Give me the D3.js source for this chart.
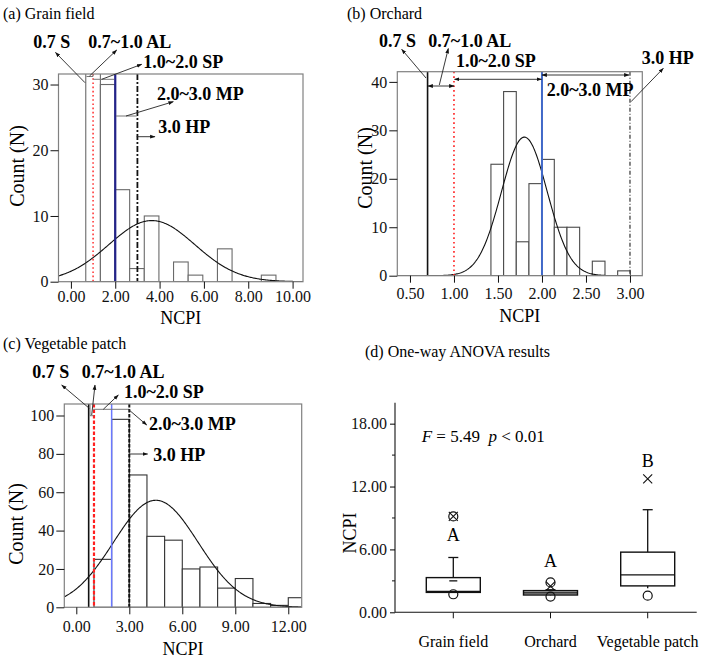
<!DOCTYPE html>
<html><head><meta charset="utf-8">
<script src="https://cdn.jsdelivr.net/npm/d3@7"></script>
<style>
body{margin:0;background:#fff}
svg{font-family:"Liberation Serif","Times New Roman",serif}
</style></head><body>
<script>
// ---------------- DATA ----------------
const thresholds = [0.7, 1.0, 2.0, 3.0];
const thresholdLabels = ["0.7 S", "0.7~1.0 AL", "1.0~2.0 SP", "2.0~3.0 MP", "3.0 HP"];

// (a) Grain field histogram
const grainBinStart = 0.67, grainBinWidth = 0.66;
const grainCounts = [40, 30, 14, 2, 10, 0, 3, 1, 0, 5, 0, 0, 1];
const grainNormal = [3.65, 1.94, 9.3]; // mean, sd, peak count
const grainXTicks = [0, 2, 4, 6, 8, 10];
const grainYTicks = [0, 10, 20, 30];

// (b) Orchard histogram
const orchardBinStart = 1.42, orchardBinWidth = 0.144;
const orchardCounts = [23, 38, 7, 19, 24, 10, 10, 0, 3, 0, 1];
const orchardNormal = [1.80, 0.26, 28.6];
const orchardXTicks = [0.5, 1.0, 1.5, 2.0, 2.5, 3.0];
const orchardYTicks = [0, 10, 20, 30, 40];

// (c) Vegetable patch histogram
const vegBinStart = 1.0, vegBinWidth = 1.0;
const vegCounts = [25, 98, 69, 37, 35, 20, 21, 10, 15, 2, 1, 5];
const vegNormal = [4.5, 2.4, 55.8];
const vegXTicks = [0, 3, 6, 9, 12];
const vegYTicks = [0, 20, 40, 60, 80, 100];

// (d) One-way ANOVA box plots
const boxCategories = ["Grain field", "Orchard", "Vegetable patch"];
const boxQ1 = [1.90, 1.65, 2.52];
const boxMedian = [2.00, 1.85, 3.57];
const boxQ3 = [3.31, 2.07, 5.74];
const boxWhiskerLow = [1.90, 1.62, 2.30];
const boxWhiskerHigh = [5.23, 2.15, 9.79];
const boxMean = [3.00, null, null];
const boxMinMarker = [1.72, 1.50, 1.59];
const boxMaxMarker = [9.15, 2.85, null];
const boxCrossMarker = [9.15, 2.50, 12.73];
const boxLetters = ["A", "A", "B"];
const boxLetterAt = [6.8, 4.35, 13.9];
const boxYTicks = [0, 6, 12, 18];
const boxYMinor = [3, 9, 15];

// ---------------- DRAW ----------------
const svg = d3.select("body").append("svg").attr("width", 708).attr("height", 658);
const defs = svg.append("defs");
defs.append("marker").attr("id", "ah").attr("viewBox", "0 0 10 10").attr("refX", 9).attr("refY", 5)
  .attr("markerWidth", 6).attr("markerHeight", 6).attr("orient", "auto-start-reverse")
  .append("path").attr("d", "M0,1.5 L10,5 L0,8.5 Z").attr("fill", "#111");

function arrow(g, p1, p2, both) {
  const l = g.append("line").attr("x1", p1[0]).attr("y1", p1[1]).attr("x2", p2[0]).attr("y2", p2[1])
    .attr("stroke", "#222").attr("stroke-width", 0.9).attr("marker-end", "url(#ah)");
  if (both) l.attr("marker-start", "url(#ah)");
}
function pline(g, pts, color) {
  g.append("path").attr("d", d3.line()(pts)).attr("fill", "none").attr("stroke", color || "#777").attr("stroke-width", 1);
}

function histPanel(cfg) {
  const g = svg.append("g");
  const x = d3.scaleLinear().domain(cfg.xDomain).range([cfg.left, cfg.right]);
  const y = d3.scaleLinear().domain(cfg.yDomain).range([cfg.bottom, cfg.top]);
  const cid = "clip" + cfg.id;
  defs.append("clipPath").attr("id", cid).append("rect")
    .attr("x", cfg.left).attr("y", cfg.top).attr("width", cfg.right - cfg.left).attr("height", cfg.bottom - cfg.top);
  const plot = g.append("g").attr("clip-path", `url(#${cid})`);
  const bins = cfg.counts.map((c, i) => ({x0: cfg.binStart + i * cfg.binWidth, x1: cfg.binStart + (i + 1) * cfg.binWidth, c}))
    .filter(d => d.c > 0);
  plot.selectAll("rect.bar").data(bins).join("rect").attr("class", "bar")
    .attr("x", d => x(d.x0)).attr("width", d => x(d.x1) - x(d.x0))
    .attr("y", d => y(d.c)).attr("height", d => y(0) - y(d.c))
    .attr("fill", "#fff").attr("stroke", cfg.barStroke).attr("stroke-width", 1.1);
  // normal curve
  const [mu, sd, pk] = cfg.normal;
  const step = (cfg.xDomain[1] - cfg.xDomain[0]) / 300;
  const xs = d3.range(cfg.xDomain[0], cfg.xDomain[1] + step / 2, step);
  plot.append("path").datum(xs)
    .attr("d", d3.line().x(v => x(v)).y(v => y(pk * Math.exp(-((v - mu) ** 2) / (2 * sd * sd)))))
    .attr("fill", "none").attr("stroke", "#111").attr("stroke-width", 1.1);
  // threshold lines
  cfg.lines.forEach(L => {
    plot.append("line").attr("x1", x(L.v)).attr("x2", x(L.v)).attr("y1", cfg.top).attr("y2", cfg.bottom)
      .attr("stroke", L.color).attr("stroke-width", L.w).attr("stroke-dasharray", L.dash || null);
  });
  // frame
  g.append("rect").attr("x", cfg.left).attr("y", cfg.top).attr("width", cfg.right - cfg.left).attr("height", cfg.bottom - cfg.top)
    .attr("fill", "none").attr("stroke", "#808080").attr("stroke-width", 1.2);
  // axes
  const ax = g.append("g").attr("transform", `translate(0,${cfg.bottom})`)
    .call(d3.axisBottom(x).tickValues(cfg.xTicks).tickFormat(d3.format(".2f")).tickSize(7).tickPadding(cfg.xPad));
  const ay = g.append("g").attr("transform", `translate(${cfg.left},0)`)
    .call(d3.axisLeft(y).tickValues(cfg.yTicks).tickFormat(d3.format("d")).tickSize(8).tickPadding(2));
  [ax, ay].forEach(a => {
    a.select(".domain").remove();
    a.selectAll("text").attr("font-size", 16).attr("font-family", "Liberation Serif").attr("fill", "#111");
    a.selectAll("line").attr("stroke", "#111");
  });
  // titles
  svg.append("text").attr("x", cfg.titleX).attr("y", 19 + cfg.titleDy).attr("font-size", 16).text(cfg.title);
  svg.append("text").attr("transform", `translate(${cfg.ylabX},${cfg.ylabY}) rotate(-90)`)
    .attr("text-anchor", "middle").attr("font-size", 20).text("Count (N)");
  svg.append("text").attr("x", (cfg.left + cfg.right) / 2).attr("y", cfg.xlabY).attr("text-anchor", "middle")
    .attr("font-size", 18).text("NCPI");
  // annotation texts
  cfg.texts.forEach((p, i) => {
    svg.append("text").attr("x", p[0]).attr("y", p[1]).attr("font-size", 18).attr("font-weight", "bold")
      .text(thresholdLabels[i]);
  });
  const an = svg.append("g");
  (cfg.brackets || []).forEach(b => pline(an, b, "#777"));
  (cfg.arrows || []).forEach(a => arrow(an, a[0], a[1], a[2]));
  return {x, y};
}

// (a)
histPanel({
  id: "a", title: "(a) Grain field", titleX: 3, titleDy: 0,
  left: 58.5, right: 303, top: 74, bottom: 281.7,
  xDomain: [-0.56, 10.47], yDomain: [0, 31.6],
  binStart: grainBinStart, binWidth: grainBinWidth, counts: grainCounts, normal: grainNormal,
  xTicks: grainXTicks, yTicks: grainYTicks, xPad: 2, barStroke: "#6a6a6a",
  lines: [
    {v: thresholds[1], color: "#ff3b3b", w: 1.6, dash: "1.6,2.6"},
    {v: thresholds[2], color: "#23238a", w: 2.2},
    {v: thresholds[3], color: "#111", w: 1.8, dash: "6,2,2,2"}
  ],
  ylabX: 24, ylabY: 166, xlabY: 324,
  texts: [[33.3, 48], [88.3, 48], [143.3, 68.3], [157, 100], [158.3, 133]],
  brackets: [[[86.5, 76.5], [93, 76.5], [93, 74.5]], [[93.3, 79.3], [114, 79.3]], [[116, 116], [136.7, 116]]],
  arrows: [
    [[85, 82.7], [55.5, 52.5]], [[89.5, 76], [116.7, 50]], [[101.7, 79.3], [141.7, 64.3]],
    [[126, 116], [173.3, 101.7]], [[136.7, 136.7], [155, 136.7]]
  ]
});

// (b)
histPanel({
  id: "b", title: "(b) Orchard", titleX: 347, titleDy: 0,
  left: 397.3, right: 642.3, top: 71.7, bottom: 275.7,
  xDomain: [0.356, 3.14], yDomain: [0, 42.1],
  binStart: orchardBinStart, binWidth: orchardBinWidth, counts: orchardCounts, normal: orchardNormal,
  xTicks: orchardXTicks, yTicks: orchardYTicks, xPad: 5, barStroke: "#4a4a4a",
  lines: [
    {v: thresholds[0], color: "#111", w: 1.6},
    {v: thresholds[1], color: "#ff2a2a", w: 1.7, dash: "1.6,3"},
    {v: thresholds[2], color: "#4169c8", w: 2},
    {v: thresholds[3], color: "#333", w: 1.2, dash: "4,2,1,2"}
  ],
  ylabX: 372, ylabY: 168, xlabY: 322,
  texts: [[379, 46.5], [428.3, 46.5], [456, 66.7], [546.7, 95.7], [641.7, 64.3]],
  brackets: [],
  arrows: [
    [[426, 78], [401.7, 49.3]], [[439.3, 85], [448.3, 48.5]],
    [[428, 86], [454, 86], true], [[454.5, 79.3], [541.5, 79.3], true], [[542, 75], [629, 75], true],
    [[631, 101.7], [663.3, 68.3]]
  ]
});

// (c)
histPanel({
  id: "c", title: "(c) Vegetable patch", titleX: 3, titleDy: 330,
  left: 64.3, right: 301.7, top: 404, bottom: 607.3,
  xDomain: [-0.68, 12.76], yDomain: [0, 106],
  binStart: vegBinStart, binWidth: vegBinWidth, counts: vegCounts, normal: vegNormal,
  xTicks: vegXTicks, yTicks: vegYTicks, xPad: 6, barStroke: "#333",
  lines: [
    {v: thresholds[0], color: "#111", w: 1.6},
    {v: thresholds[1], color: "#ff2020", w: 2.2, dash: "3.5,2"},
    {v: thresholds[2], color: "#6a78ff", w: 1.5},
    {v: thresholds[3], color: "#111", w: 2, dash: "3.5,1.5"}
  ],
  ylabX: 23, ylabY: 524, xlabY: 655,
  texts: [[32.3, 377.7], [81.7, 377.7], [124, 398], [149, 430], [153.3, 460.7]],
  brackets: [[[90, 404.5], [90, 415.7], [93.5, 415.7]], [[93.3, 409.3], [129.3, 409.3]]],
  arrows: [
    [[89.3, 408.3], [61.7, 385]], [[91.7, 415], [95, 385]], [[103.3, 409.3], [118.3, 395]],
    [[128.3, 409.3], [146.7, 425]], [[130, 454], [147.7, 454]]
  ]
});

// (d) box plots
(function () {
  const g = svg.append("g");
  const y = d3.scaleLinear().domain([0, 20]).range([612.3, 402.7]);
  const x = d3.scalePoint().domain(boxCategories).range([453.3, 647.7]);
  const axL = 395, axR = 696.7;
  svg.append("text").attr("x", 365).attr("y", 357).attr("font-size", 16).text("(d) One-way ANOVA results");
  // axes
  g.append("line").attr("x1", axL).attr("x2", axL).attr("y1", y(20)).attr("y2", y(0)).attr("stroke", "#111").attr("stroke-width", 1.1);
  g.append("line").attr("x1", axL).attr("x2", axR).attr("y1", y(0)).attr("y2", y(0)).attr("stroke", "#111").attr("stroke-width", 1.1);
  const ay = g.append("g").attr("transform", `translate(${axL},0)`)
    .call(d3.axisLeft(y).tickValues(boxYTicks).tickFormat(d3.format(".2f")).tickSize(5).tickPadding(3));
  ay.select(".domain").remove();
  ay.selectAll("text").attr("font-size", 16).attr("font-family", "Liberation Serif").attr("fill", "#111");
  g.selectAll("line.minor").data(boxYMinor).join("line").attr("class", "minor")
    .attr("x1", axL - 3).attr("x2", axL).attr("y1", d => y(d)).attr("y2", d => y(d)).attr("stroke", "#111");
  g.selectAll("line.xt").data(boxCategories).join("line").attr("class", "xt")
    .attr("x1", d => x(d)).attr("x2", d => x(d)).attr("y1", y(0)).attr("y2", y(0) + 6).attr("stroke", "#111");
  g.selectAll("text.cat").data(boxCategories).join("text").attr("class", "cat")
    .attr("x", d => x(d)).attr("y", 647).attr("text-anchor", "middle").attr("font-size", 16).text(d => d);
  svg.append("text").attr("transform", `translate(356,533) rotate(-90)`).attr("text-anchor", "middle")
    .attr("font-size", 18).text("NCPI");
  const ft = svg.append("text").attr("x", 421.7).attr("y", 441.7).attr("font-size", 17).attr("xml:space", "preserve").style("white-space", "pre");
  ft.append("tspan").attr("font-style", "italic").text("F");
  ft.append("tspan").text(" = 5.49  ");
  ft.append("tspan").attr("font-style", "italic").text("p");
  ft.append("tspan").text(" < 0.01");

  const bw = 54;
  boxCategories.forEach((c, i) => {
    const cx = x(c);
    // whiskers
    g.append("line").attr("x1", cx).attr("x2", cx).attr("y1", y(boxQ3[i])).attr("y2", y(boxWhiskerHigh[i])).attr("stroke", "#111").attr("stroke-width", 1.3);
    g.append("line").attr("x1", cx - 5).attr("x2", cx + 5).attr("y1", y(boxWhiskerHigh[i])).attr("y2", y(boxWhiskerHigh[i])).attr("stroke", "#111").attr("stroke-width", 1.3);
    g.append("line").attr("x1", cx).attr("x2", cx).attr("y1", y(boxQ1[i])).attr("y2", y(boxWhiskerLow[i])).attr("stroke", "#111").attr("stroke-width", 1.3);
    // box
    g.append("rect").attr("x", cx - bw / 2).attr("width", bw).attr("y", y(boxQ3[i])).attr("height", y(boxQ1[i]) - y(boxQ3[i]))
      .attr("fill", i === 1 ? "#bdbdbd" : "#fff").attr("stroke", "#111").attr("stroke-width", 1.4);
    g.append("line").attr("x1", cx - bw / 2).attr("x2", cx + bw / 2).attr("y1", y(boxMedian[i])).attr("y2", y(boxMedian[i]))
      .attr("stroke", "#111").attr("stroke-width", 1.4);
    if (boxMean[i] != null)
      g.append("line").attr("x1", cx - 4).attr("x2", cx + 4).attr("y1", y(boxMean[i])).attr("y2", y(boxMean[i])).attr("stroke", "#111").attr("stroke-width", 1.3);
    // markers
    [boxMinMarker[i], boxMaxMarker[i]].forEach(v => {
      if (v == null) return;
      g.append("circle").attr("cx", cx).attr("cy", y(v)).attr("r", 4.5).attr("fill", "none").attr("stroke", "#111").attr("stroke-width", 1.2);
    });
    if (boxCrossMarker[i] != null) {
      const cy = y(boxCrossMarker[i]), s = 4.5;
      g.append("path").attr("d", `M${cx - s},${cy - s}L${cx + s},${cy + s}M${cx - s},${cy + s}L${cx + s},${cy - s}`)
        .attr("stroke", "#111").attr("stroke-width", 1.1);
    }
    g.append("text").attr("x", cx).attr("y", y(boxLetterAt[i])).attr("text-anchor", "middle").attr("font-size", 18).text(boxLetters[i]);
  });
})();
</script></body></html>
